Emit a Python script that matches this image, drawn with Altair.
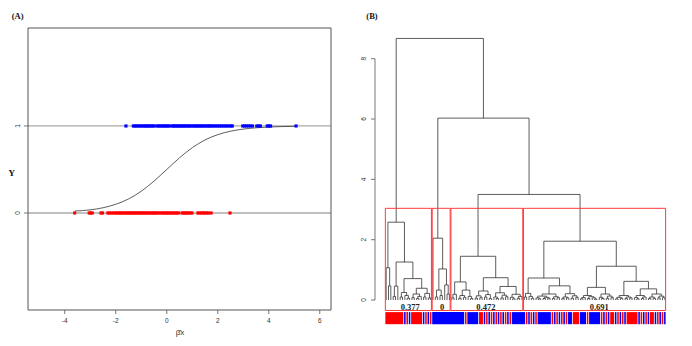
import altair as alt
import pandas as pd

# ---------------- Panel A data ----------------
BLUE_X = [-1.6, -1.31, -1.25, -1.18, -1.12, -1.05, -0.98, -0.92, -0.85, -0.8, -0.74, -0.68,
          -0.62, -0.55, -0.5, -0.39, -0.33, -0.27, -0.2, -0.14, -0.08, -0.02, 0.04, 0.1,
          0.2, 0.26, 0.31, 0.37, 0.43, 0.49, 0.55, 0.6, 0.66, 0.72, 0.78, 0.84, 0.9, 0.96,
          1.04, 1.1, 1.16, 1.22, 1.28, 1.34, 1.4, 1.47, 1.53, 1.6, 1.66, 1.72, 1.79, 1.86,
          1.93, 2.0, 2.07, 2.14, 2.21, 2.29, 2.36, 2.44, 2.52, 2.57, 2.98, 3.05, 3.12, 3.2,
          3.28, 3.36, 3.53, 3.6, 3.67, 3.94, 4.0, 4.07, 5.07]
RED_X = [-3.61, -3.04, -2.98, -2.92, -2.58, -2.52, -2.31, -2.24, -2.16, -2.08, -2.0, -1.94,
         -1.87, -1.81, -1.75, -1.69, -1.62, -1.56, -1.5, -1.44, -1.38, -1.32, -1.26, -1.2,
         -1.13, -1.07, -1.0, -0.94, -0.88, -0.82, -0.76, -0.7, -0.63, -0.57, -0.51, -0.45,
         -0.39, -0.33, -0.24, -0.18, -0.12, -0.05, 0.01, 0.07, 0.14, 0.2, 0.27, 0.33, 0.4,
         0.46, 0.6, 0.66, 0.72, 0.78, 0.85, 0.92, 0.99, 1.22, 1.28, 1.37, 1.43, 1.5, 1.57,
         1.64, 1.74, 2.48]
CURVE_X = [-3.61, -3.0, -2.5, -2.0, -1.5, -1.0, -0.5, 0.0, 0.5, 1.0, 1.5, 2.0, 2.5, 3.0,
           3.5, 4.0, 4.5, 5.07]
CURVE_Y = [0.022, 0.036, 0.06, 0.10, 0.161, 0.25, 0.366, 0.5, 0.634, 0.75, 0.839, 0.90,
           0.94, 0.964, 0.979, 0.988, 0.993, 0.996]
XA_TICKS = [-4, -2, 0, 2, 4, 6]
YA_TICKS = [0, 1]
XA_DOMAIN = [-5.44, 6.44]
YA_DOMAIN = [-1.115, 2.126]

# ---------------- Panel B data ----------------
L = 0  # a leaf
CLUSTER1 = [2.58,
            [1.07, L, [0.47, L, L]],
            [1.26,
             [0.46, [0.12, L, L], L],
             [0.71,
              [0.25, [0.1, L, L], [0.15, L, [0.06, L, L]]],
              [0.39,
               [0.2, [0.08, L, L], [0.12, [0.05, L, L], L]],
               [0.22, [0.1, L, L], [0.07, L, L]]]]]]
CLUSTER2 = [2.05, L, [1.03, [0.33, [0.1, L, L], [0.15, L, L]], [0.5, L, [0.2, L, L]]]]
CLUSTER3 = [1.45,
            [0.6, [0.19, [0.07, L, L], L],
             [0.33, [0.15, [0.06, L, L], [0.09, L, L]], [0.12, L, [0.05, L, L]]]],
            [0.74,
             [0.3, [0.14, [0.06, L, L], [0.08, L, L]], [0.18, [0.1, L, L], [0.05, L, L]]],
             [0.45,
              [0.24, [0.1, L, [0.05, L, L]], [0.16, [0.07, L, L], [0.11, L, L]]],
              [0.19, [0.09, L, [0.04, L, L]], [0.12, [0.06, L, L], L]]]]]
CLUSTER4 = [1.95,
            [0.73,
             [0.22, [0.1, L, L], [0.12, L, [0.06, L, L]]],
             [0.47,
              [0.2, [0.13, [0.07, L, [0.04, L, L]], [0.09, [0.05, L, L], [0.06, L, L]]],
               [0.11, [0.05, L, L], [0.08, L, L]]],
              [0.21, [0.1, [0.05, L, L], [0.07, L, L]], [0.14, [0.06, L, L], [0.09, L, L]]]]],
            [1.12,
             [0.42,
              [0.15, [0.08, [0.04, L, L], L], [0.11, [0.05, L, L], [0.07, L, [0.03, L, L]]]],
              [0.2, [0.09, L, [0.05, L, L]], [0.13, [0.06, L, L], [0.08, L, L]]]],
             [0.62,
              [0.15, [0.09, [0.04, L, L], [0.06, L, L]], [0.1, [0.05, L, L], [0.07, L, L]]],
              [0.37,
               [0.15, [0.08, L, [0.04, L, L]], [0.1, [0.05, L, L], L]],
               [0.2, [0.1, [0.05, L, L], [0.06, L, L]], [0.13, [0.07, L, L], [0.09, L, L]]]]]]]
TOP_HEIGHTS = [3.5, 6.03, 8.67]   # C3+C4, C2+(..), C1+(..)
CLUSTERS = [CLUSTER1, CLUSTER2, CLUSTER3, CLUSTER4]
COLORS_C1 = ["RRRRRRRR", "B", "R", "B", "RRRRR", "B", "R", "B", "R"]
COLORS_C2 = ["BBBBBBBB"]
COLORS_C3 = ["BBBBBB", "R", "BBBBB", "RR", "BRBRBRBRBRBR", "BBBBB"]
COLORS_C4 = ["BRBRBRBB", "BBBB", "RBRBRBR", "BB", "RRR", "BBB", "R", "B", "BBBB", "RBRB",
             "RR", "BRBRB", "RRRRR", "BRBRB", "RR", "BRBRB"]
CLUSTER_LABELS = ["0.377", "0", "0.472", "0.691"]
LABEL_POS = [11.3, 24.9, 43.6, 92.0]
CUT_HEIGHT = 3.04
YB_TICKS = [0, 2, 4, 6, 8]

# ---------------- build dendrogram geometry ----------------
ROOT = [TOP_HEIGHTS[2], CLUSTER1, [TOP_HEIGHTS[1], CLUSTER2, [TOP_HEIGHTS[0], CLUSTER3, CLUSTER4]]]


def count(node):
    return 1 if node == L else count(node[1]) + count(node[2])


def lay(node, ctr, segs):
    if node == L:
        ctr[0] += 1
        return float(ctr[0]), 0.0
    h, a, b = node
    xa, ha = lay(a, ctr, segs)
    xb, hb = lay(b, ctr, segs)
    segs.append((xa, ha, xa, h))
    segs.append((xa, h, xb, h))
    segs.append((xb, hb, xb, h))
    return (xa + xb) / 2, h


segs = []
lay(ROOT, [0], segs)
seg_df = pd.DataFrame(segs, columns=["x", "y", "x2", "y2"])
N = count(ROOT)
sizes = [count(c) for c in CLUSTERS]
colors = "".join(COLORS_C1 + COLORS_C2 + COLORS_C3 + COLORS_C4)
colors = (colors + "B" * N)[:N]

hmax = TOP_HEIGHTS[2]
XB_DOMAIN = [1 - 0.04 * (N - 1), N + 0.04 * (N - 1)]
YB_DOMAIN = [-0.04 * hmax, 1.04 * hmax]

rects = []
start = 1
for s in sizes:
    rects.append({"x": start - 0.34, "x2": start + s - 1 + 0.33, "y": YB_DOMAIN[0], "y2": CUT_HEIGHT})
    start += s
rect_df = pd.DataFrame(rects)

runs = []
i = 0
while i < N:
    j = i
    while j + 1 < N and colors[j + 1] == colors[i]:
        j += 1
    runs.append({"x": i + 1 - 0.34, "x2": j + 1 + 0.33, "c": colors[i]})
    i = j + 1
bar_df = pd.DataFrame(runs)
bar_df["y"] = -0.40
bar_df["y2"] = -0.80


def sc(dom, rng):
    return alt.Scale(domain=dom, range=rng, nice=False, zero=False)


SXA = sc(XA_DOMAIN, [20, 323])
SYA = sc(YA_DOMAIN, [302, 20])
SXB = sc(XB_DOMAIN, [367, 668])
SYB = sc(YB_DOMAIN, [302.5, 20])


def X(f, s):
    return alt.X(f, type="quantitative", scale=s, axis=None)


def Y(f, s):
    return alt.Y(f, type="quantitative", scale=s, axis=None)


SANS = "Liberation Sans"
SERIF = "Liberation Serif"

# ---------------- Panel A layers ----------------
box_a = alt.Chart(pd.DataFrame({"x": [XA_DOMAIN[0]], "x2": [XA_DOMAIN[1]],
                                "y": [YA_DOMAIN[0]], "y2": [YA_DOMAIN[1]]})).mark_rect(
    filled=False, color="#555555", strokeWidth=1).encode(
    x=X("x", SXA), x2="x2:Q", y=Y("y", SYA), y2="y2:Q")

hl_a = alt.Chart(pd.DataFrame({"y": YA_TICKS, "x": XA_DOMAIN[0], "x2": XA_DOMAIN[1]})).mark_rule(
    color="#aaaaaa", strokeWidth=1.3).encode(x=X("x", SXA), x2="x2:Q", y=Y("y", SYA))

curve_a = alt.Chart(pd.DataFrame({"x": CURVE_X, "y": CURVE_Y})).mark_line(
    interpolate="monotone", color="#333333", strokeWidth=0.8).encode(
    x=X("x", SXA), y=Y("y", SYA))

blue_a = alt.Chart(pd.DataFrame({"x": BLUE_X, "y": 1})).mark_square(
    size=10, color="#0000ff", opacity=1).encode(x=X("x", SXA), y=Y("y", SYA))
red_a = alt.Chart(pd.DataFrame({"x": RED_X, "y": 0})).mark_square(
    size=10, color="#ff0000", opacity=1).encode(x=X("x", SXA), y=Y("y", SYA))

xt_df = pd.DataFrame({"v": XA_TICKS, "t": [str(v) for v in XA_TICKS]})
xtick_a = alt.Chart(xt_df).mark_rule(color="#555555", strokeWidth=0.8).encode(
    x=X("v", SXA), y=alt.value(302), y2=alt.value(306))
xlab_a = alt.Chart(xt_df).mark_text(font=SANS, fontSize=6.5, color="#333333",
                                    baseline="middle").encode(
    x=X("v", SXA), y=alt.value(312.5), text="t:N")

yt_df = pd.DataFrame({"v": YA_TICKS, "t": [str(v) for v in YA_TICKS]})
ytick_a = alt.Chart(yt_df).mark_rule(color="#555555", strokeWidth=0.8).encode(
    y=Y("v", SYA), x=alt.value(16), x2=alt.value(20))
ylab_a = alt.Chart(yt_df).mark_text(font=SANS, fontSize=6.5, color="#333333", angle=270,
                                    baseline="middle").encode(
    y=Y("v", SYA), x=alt.value(9.5), text="t:N")

xtitle_a = alt.Chart(pd.DataFrame({"t": ["β\u0302x"]})).mark_text(
    font=SANS, fontSize=8, color="#333333").encode(x=alt.value(172), y=alt.value(325), text="t:N")
ytitle_a = alt.Chart(pd.DataFrame({"t": ["Y"]})).mark_text(
    font=SERIF, fontSize=9, fontWeight="bold", align="left", color="#111111").encode(
    x=alt.value(0.5), y=alt.value(165), text="t:N")
title_a = alt.Chart(pd.DataFrame({"t": ["(A)"]})).mark_text(
    font=SERIF, fontSize=8.5, fontWeight="bold", color="#111111").encode(
    x=alt.value(9.7), y=alt.value(7.7), text="t:N")

# ---------------- Panel B layers ----------------
dend_b = alt.Chart(seg_df).mark_rule(color="#333333", strokeWidth=0.8).encode(
    x=X("x", SXB), y=Y("y", SYB), x2="x2:Q", y2="y2:Q")

rect_b = alt.Chart(rect_df).mark_rect(filled=False, color="#ff3b3b", strokeWidth=1).encode(
    x=X("x", SXB), x2="x2:Q", y=Y("y", SYB), y2="y2:Q")

bar_b = alt.Chart(bar_df).mark_rect().encode(
    x=X("x", SXB), x2="x2:Q", y=Y("y", SYB), y2="y2:Q",
    color=alt.Color("c:N", scale=alt.Scale(domain=["R", "B"], range=["#ff0000", "#0000ff"]),
                    legend=None))

lab_b = alt.Chart(pd.DataFrame({"x": LABEL_POS, "y": -0.23, "t": CLUSTER_LABELS})).mark_text(
    font=SERIF, fontSize=8.5, fontWeight="bold", color="#222222", baseline="middle").encode(
    x=X("x", SXB), y=Y("y", SYB), text="t:N")

axis_b = alt.Chart(pd.DataFrame({"y": [YB_TICKS[0]], "y2": [YB_TICKS[-1]]})).mark_rule(
    color="#555555", strokeWidth=0.8).encode(x=alt.value(367), y=Y("y", SYB), y2="y2:Q")
yt_b = pd.DataFrame({"v": YB_TICKS, "t": [str(v) for v in YB_TICKS]})
ytick_b = alt.Chart(yt_b).mark_rule(color="#555555", strokeWidth=0.8).encode(
    y=Y("v", SYB), x=alt.value(363), x2=alt.value(367))
ylab_b = alt.Chart(yt_b).mark_text(font=SANS, fontSize=6.5, color="#333333", angle=270,
                                   baseline="middle").encode(
    y=Y("v", SYB), x=alt.value(355.5), text="t:N")
title_b = alt.Chart(pd.DataFrame({"t": ["(B)"]})).mark_text(
    font=SERIF, fontSize=8.5, fontWeight="bold", color="#111111").encode(
    x=alt.value(364), y=alt.value(8), text="t:N")

chart = alt.layer(
    hl_a, box_a, curve_a, blue_a, red_a, xtick_a, xlab_a, ytick_a, ylab_a,
    xtitle_a, ytitle_a, title_a,
    dend_b, bar_b, rect_b, lab_b, axis_b, ytick_b, ylab_b, title_b
).resolve_scale(x="independent", y="independent").properties(
    width=676, height=330, padding=0
).configure_view(stroke=None)

chart.save("out.html", embed_options={"renderer": "svg", "actions": False})
